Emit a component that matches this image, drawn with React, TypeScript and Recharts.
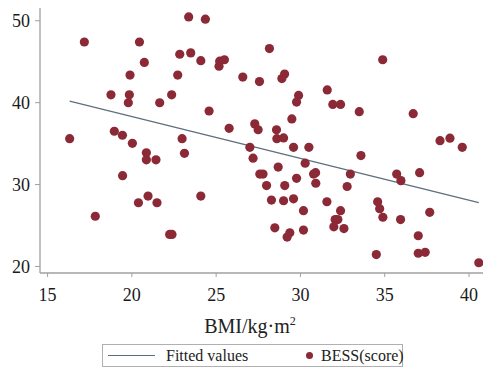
import React from 'react';
import { ComposedChart, Scatter, XAxis, YAxis } from 'recharts';

// BMI (kg/m2) of each subject
const bmi = [
  23.37, 17.18, 20.45, 22.84, 23.49, 24.09, 20.74, 19.89, 22.72, 18.76,
  19.85, 19.79, 21.65, 22.36, 18.96, 19.44, 16.31, 22.98, 20.03, 20.86,
  20.86, 21.43, 23.12, 19.45, 20.96, 20.39, 21.49, 24.09, 17.83, 22.24,
  22.38, 24.36, 25.21, 25.49, 25.17, 28.16, 26.58, 27.57, 29.06, 28.9,
  31.59, 29.89, 29.77, 31.92, 32.38, 24.58, 29.49, 25.77, 27.29, 27.49,
  28.58, 28.6, 29.0, 27.0, 27.19, 29.59, 30.5, 30.28, 28.68, 27.59,
  27.78, 29.77, 30.78, 30.9, 30.91, 32.96, 32.77, 27.99, 29.07, 28.28,
  29.0, 29.59, 31.57, 30.18, 32.38, 32.06, 32.22, 31.98, 32.58, 28.48,
  29.37, 29.21, 30.18, 34.88, 33.49, 36.69, 38.28, 38.87, 39.6, 33.59,
  35.71, 35.96, 37.07, 34.58, 34.7, 34.89, 35.94, 37.67, 36.99, 34.5,
  36.99, 37.4, 40.58,
];

// BESS score of each subject, same order
const bess = [
  50.47, 47.41, 47.41, 45.91, 46.08, 45.13, 44.91, 43.37, 43.37, 40.96,
  40.96, 39.99, 39.99, 40.96, 36.51, 36.02, 35.6, 35.6, 35.03, 33.87,
  33.02, 33.02, 33.82, 31.09, 28.59, 27.78, 27.78, 28.59, 26.13, 23.91,
  23.91, 50.19, 45.07, 45.24, 44.46, 46.6, 43.13, 42.58, 43.49, 42.94,
  41.56, 40.88, 40.07, 39.79, 39.79, 38.98, 38.02, 36.87, 37.41, 36.69,
  36.69, 35.6, 35.7, 34.55, 33.22, 34.55, 34.55, 32.61, 32.13, 31.28,
  31.28, 30.76, 31.28, 31.45, 30.16, 31.28, 29.76, 29.88, 29.88, 28.1,
  28.02, 28.26, 27.9, 26.81, 26.81, 25.72, 25.72, 24.84, 24.63, 24.72,
  24.11, 23.59, 24.44, 45.24, 38.9, 38.66, 35.36, 35.66, 34.55, 33.54,
  31.28, 30.48, 31.45, 27.9, 27.05, 26.01, 25.72, 26.61, 23.75, 21.45,
  21.61, 21.73, 20.45,
];

// fitted line end points
const fittedX = [16.31, 40.58];
const fittedY = [40.2, 27.8];

const xTicks = [15, 20, 25, 30, 35, 40];
const yTicks = [20, 30, 40, 50];

const points = bmi.map((x, i) => ({ x, y: bess[i] }));
const fitted = fittedX.map((x, i) => ({ x, y: fittedY[i] }));

const DOT = '#8b2a36';
const LINE = '#5f6e7e';
const AXIS = '#a0a0a0';
const SERIF = '"Liberation Serif", "Times New Roman", serif';
const tickFont = { fill: '#1a1a1a', fontSize: 18, fontFamily: 'Liberation Serif' };

const Dot = (props: any) => <circle cx={props.cx} cy={props.cy} r={4.6} fill={DOT} />;

export default function App() {
  return (
    <div
      style={{
        position: 'absolute',
        left: 0,
        top: 0,
        width: 483,
        height: 369,
        background: '#fff',
        fontFamily: SERIF,
      }}
    >
      <ComposedChart width={483} height={369} margin={{ top: 8, right: 0, left: 0, bottom: 0 }}>
        <XAxis
          type="number"
          dataKey="x"
          domain={[14.55, 40.83]}
          ticks={xTicks}
          allowDataOverflow
          height={96}
          tickSize={4}
          tickMargin={11}
          axisLine={{ stroke: AXIS, strokeWidth: 1.3 }}
          tickLine={{ stroke: AXIS }}
          tick={tickFont}
        />
        <YAxis
          type="number"
          dataKey="y"
          domain={[19.2, 51.56]}
          ticks={yTicks}
          allowDataOverflow
          width={40}
          tickSize={5}
          tickMargin={5}
          axisLine={{ stroke: AXIS, strokeWidth: 1.3 }}
          tickLine={{ stroke: AXIS }}
          tick={tickFont}
        />
        <Scatter
          data={fitted}
          line={{ stroke: LINE, strokeWidth: 1.3 }}
          shape={() => <g />}
          isAnimationActive={false}
        />
        <Scatter data={points} shape={Dot} isAnimationActive={false} />
      </ComposedChart>

      <div
        style={{
          position: 'absolute',
          left: 150,
          top: 309,
          width: 200,
          textAlign: 'center',
          fontSize: 20,
          color: '#222',
          lineHeight: '24px',
        }}
      >
        BMI/kg·m<sup style={{ fontSize: 12 }}>2</sup>
      </div>

      <div
        style={{
          position: 'absolute',
          left: 102,
          top: 344,
          width: 299,
          height: 21,
          border: '1px solid #b0b0b0',
          fontSize: 16,
          color: '#222',
        }}
      >
        <div style={{ position: 'absolute', left: 5, top: 10, width: 47, height: 0, borderTop: `1.3px solid ${LINE}` }} />
        <div style={{ position: 'absolute', left: 63, top: 1, lineHeight: '19px' }}>Fitted values</div>
        <div
          style={{ position: 'absolute', left: 203, top: 7, width: 7, height: 7, borderRadius: '50%', background: DOT }}
        />
        <div style={{ position: 'absolute', left: 218, top: 1, lineHeight: '19px' }}>BESS(score)</div>
      </div>
    </div>
  );
}
